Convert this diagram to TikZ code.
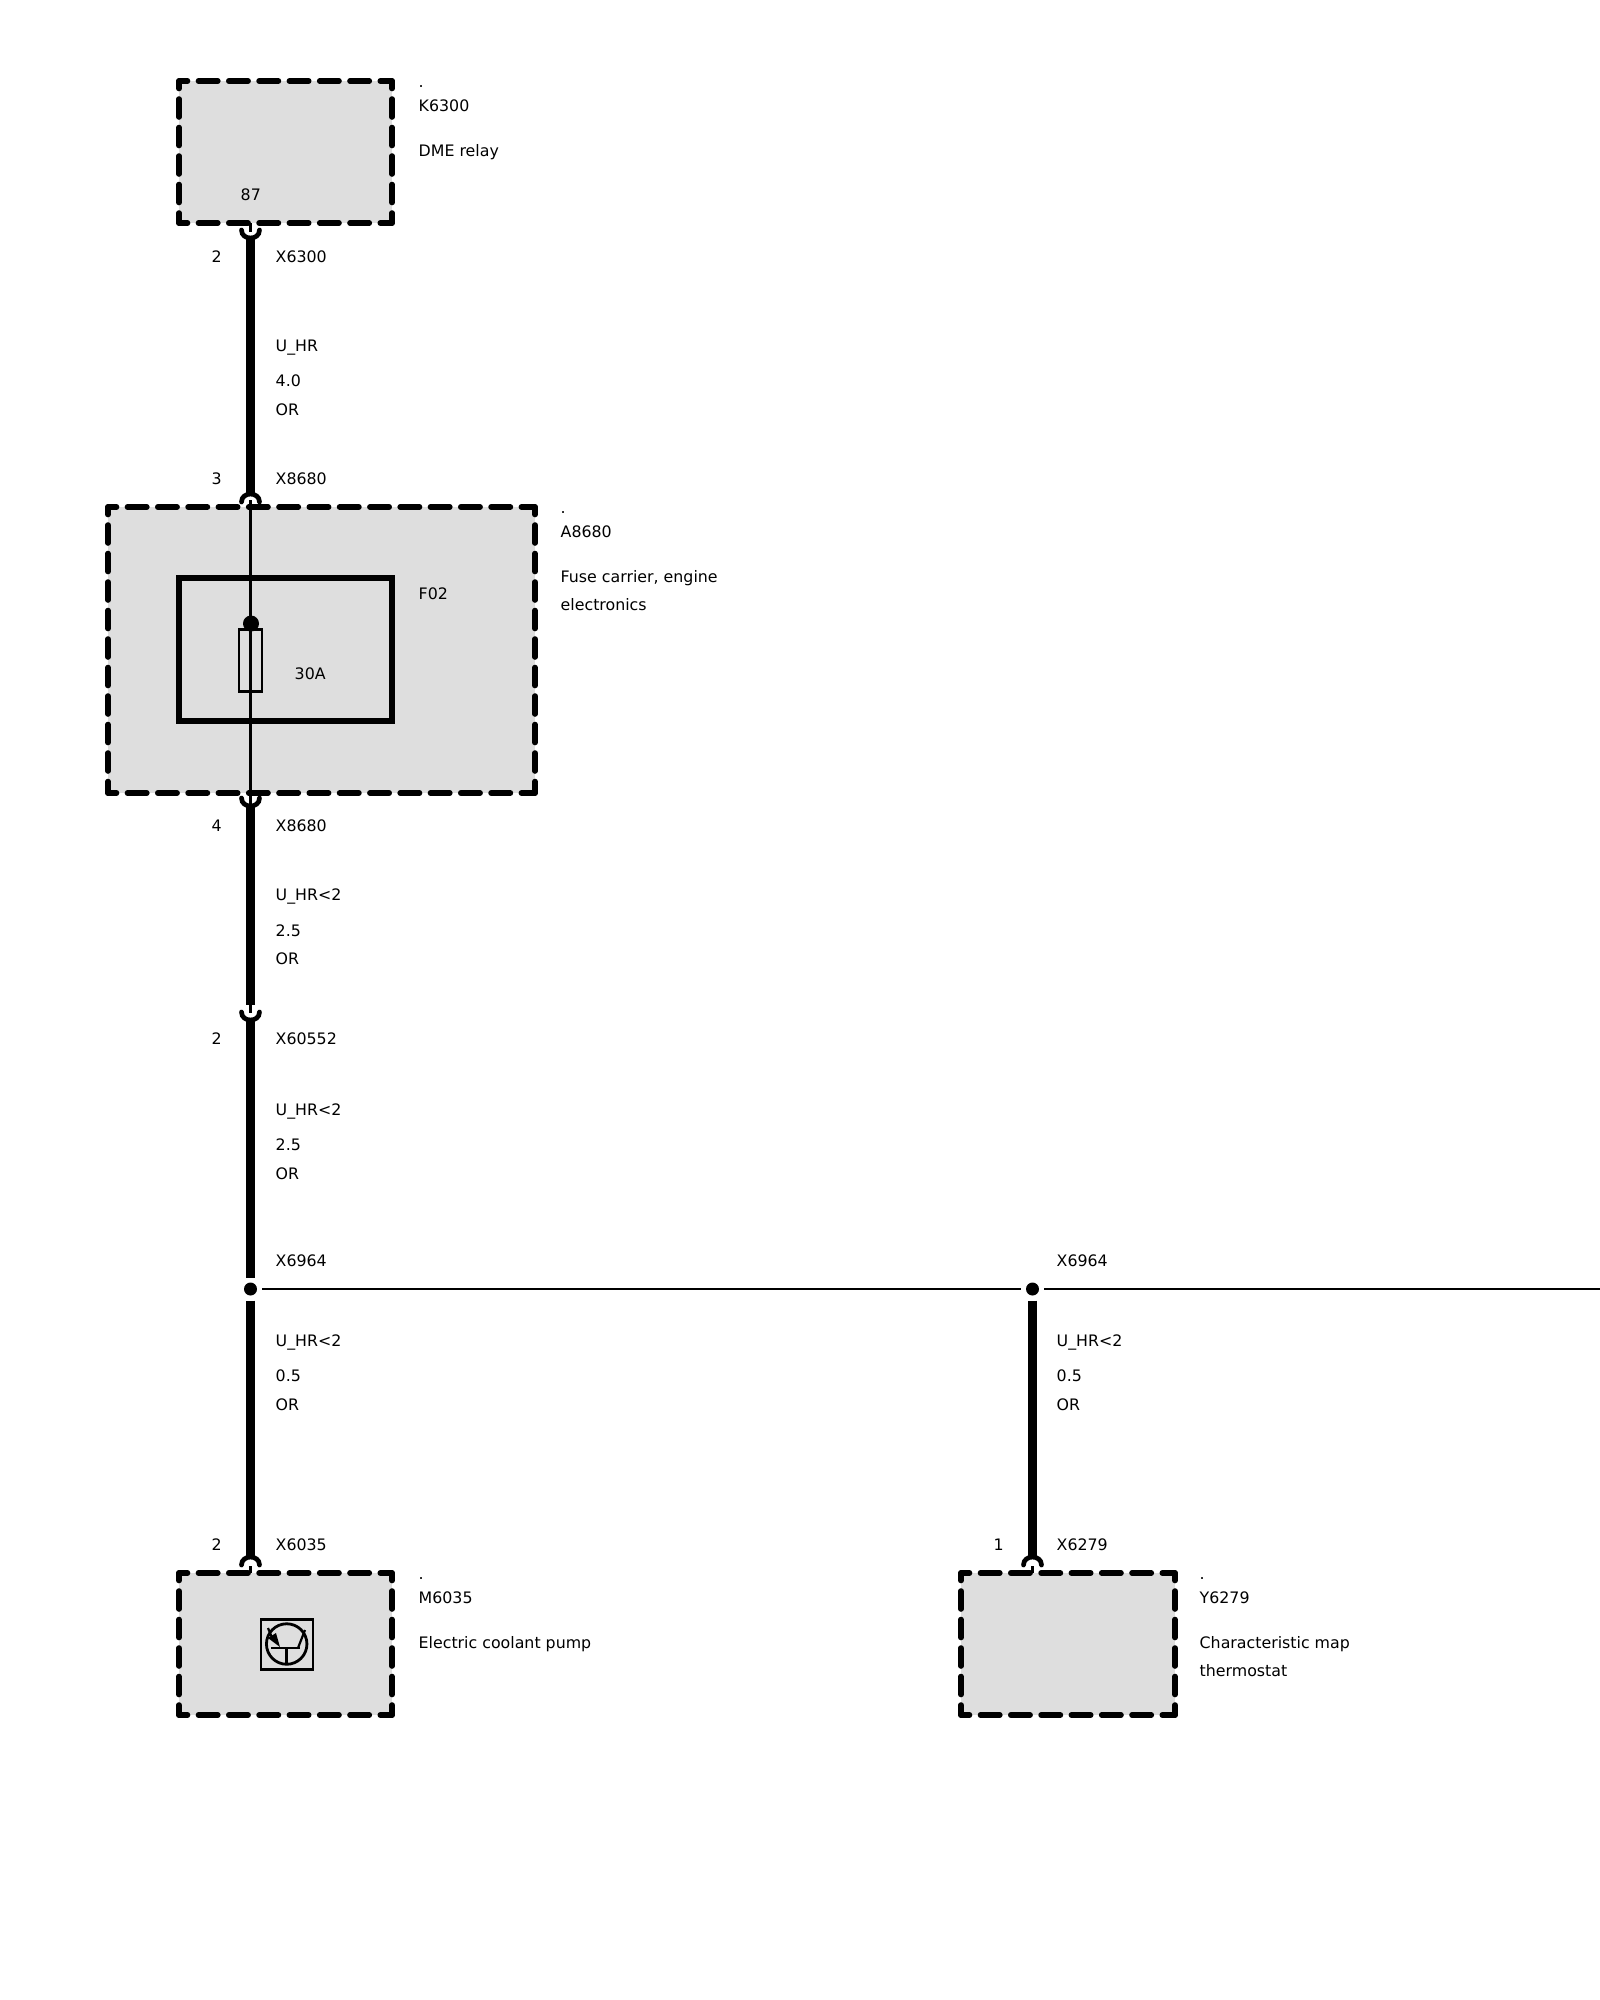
\documentclass[tikz,border=0pt]{standalone}
\usepackage{fontspec}
\setmainfont{DejaVu Sans}
\usetikzlibrary{calc}
\definecolor{boxgray}{HTML}{DEDEDE}
\tikzset{
	module/.style={fill=boxgray, inner sep=0, outer sep=0},
	hdash/.style={line width=0.56mm, line cap=round, dash pattern=on 1.93mm off 1.1mm, dash phase=1.08mm},
	vdash/.style={line width=0.56mm, line cap=round, dash pattern=on 1.8mm off 1.05mm, dash phase=1.05mm},
	wire/.style={line width=0.97mm},
	thinwire/.style={line width=0.27mm},
	stub/.style={line width=0.35mm},
	jack/.style={line width=0.47mm, line cap=round},
	junction/.style={circle, fill=black, inner sep=0, minimum size=1.3mm, outer sep=0.5mm},
	lbl/.style={anchor=base west, inner sep=0, font=\fontsize{4.5}{5.5}\selectfont},
}
\def\modulebox(#1){
	\draw[hdash] (#1.north west) -- (#1.north east);
	\draw[hdash] (#1.south west) -- (#1.south east);
	\draw[vdash] (#1.north west) -- (#1.south west);
	\draw[vdash] (#1.north east) -- (#1.south east);
}
\def\jackdown(#1){\draw[jack] ($(#1)+(-9,-8)$) .. controls ($(#1)+(-9,2.67)$) and ($(#1)+(9,2.67)$) .. ($(#1)+(9,-8)$);}
\def\jackup(#1){\draw[jack] ($(#1)+(-9,8)$) .. controls ($(#1)+(-9,-2.67)$) and ($(#1)+(9,-2.67)$) .. ($(#1)+(9,8)$);}

\begin{document}
\begin{tikzpicture}[x=0.1mm, y=-0.1mm]
	%%%%% START %%%%%
	\useasboundingbox (0, 0) rectangle (1600, 2000);
	
	\node[module, minimum width=21.3mm, minimum height=14.2mm] (k6300) at (285.5, 152) {};
	\node[module, minimum width=42.7mm, minimum height=28.6mm] (a8680) at (321.5, 650) {};
	\node[module, minimum width=21.3mm, minimum height=14.2mm] (m6035) at (285.5, 1644) {};
	\node[module, minimum width=21.4mm, minimum height=14.2mm] (y6279) at (1068, 1644) {};
	\modulebox(k6300)
	\modulebox(a8680)
	\modulebox(m6035)
	\modulebox(y6279)
	
	\node[draw, line width=0.55mm, inner sep=0, outer sep=0, minimum width=21.3mm, minimum height=14.3mm] (f02) at (285.5, 649.5) {};
	
	% connector points
	\coordinate (k6300pin) at (250.5, 223);
	\coordinate (x6300top) at (250.5, 232);
	\coordinate (x6300) at (250.5, 238);
	\coordinate (x8680in) at (250.5, 494);
	\coordinate (x8680inpin) at (250.5, 500);
	\coordinate (x8680out) at (250.5, 806);
	\coordinate (wireend) at (250.5, 1005);
	\coordinate (stubend) at (250.5, 1013);
	\coordinate (x60552) at (250.5, 1020);
	\coordinate (x6035) at (250.5, 1557);
	\coordinate (x6035pin) at (250.5, 1566);
	\coordinate (m6035pin) at (250.5, 1573);
	\coordinate (x6279) at (1032.5, 1557);
	\coordinate (x6279pin) at (1032.5, 1566);
	\coordinate (y6279pin) at (1032.5, 1573);
	\coordinate (rightend) at (1600, 1289);
	
	\node[junction] (x6964a) at (250.5, 1289) {};
	\node[junction] (x6964b) at (1032.5, 1289) {};
	
	\draw[stub] (k6300pin) -- (x6300top);
	\jackdown(x6300)
	\draw[wire] (x6300) -- (x8680in);
	\jackup(x8680in)
	\draw[thinwire] (x8680inpin) -- (x8680out);
	\jackdown(x8680out)
	\draw[wire] (x8680out) -- (wireend);
	\draw[stub] (wireend) -- (stubend);
	\jackdown(x60552)
	\draw[wire] (x60552) -- (x6964a);
	\draw[wire] (x6964a) -- (x6035);
	\jackup(x6035)
	\draw[stub] (x6035pin) -- (m6035pin);
	\draw[wire] (x6964b) -- (x6279);
	\jackup(x6279)
	\draw[stub] (x6279pin) -- (y6279pin);
	\draw[thinwire] (x6964a) -- (x6964b);
	\draw[thinwire] (x6964b) -- (rightend);
	
	% fuse
	\node[draw, line width=0.22mm, inner sep=0, outer sep=0, minimum width=2.3mm, minimum height=6.2mm] (fuse) at (250.5, 660.5) {};
	\node[circle, fill=black, inner sep=0, minimum size=1.6mm] (fusecap) at (251, 623.5) {};
	
	% motor symbol
	\node[draw, line width=0.25mm, inner sep=0, outer sep=0, minimum width=5.2mm, minimum height=5mm] (pumpframe) at (287, 1644.5) {};
	\node[draw, circle, line width=0.28mm, inner sep=0, outer sep=0, minimum size=4.05mm] (pumpmotor) at (286.7, 1644) {};
	\draw[line width=0.28mm] (271, 1648) -- (300, 1648);
	\draw[line width=0.22mm] (286.5, 1648) -- (286.5, 1664);
	\draw[line width=0.22mm] (298, 1648) -- (305, 1630);
	\draw[line width=0.22mm] (268, 1628) -- (273, 1640);
	\fill (268, 1638) -- (276, 1633) -- (280, 1647) -- cycle;
	
	% texts
	\node[lbl] (k6300dot) at (418, 87) {.};
	\node[lbl] (k6300id) at (418, 111) {K6300};
	\node[lbl] (k6300name) at (418, 156) {DME relay};
	\node[lbl] (k6300no) at (240, 200) {87};
	\node[lbl] (pin6300) at (211, 262) {2};
	\node[lbl] (lblx6300) at (275, 262) {X6300};
	\node[lbl] (sig1) at (275, 351) {U\_HR};
	\node[lbl] (size1) at (275, 386) {4.0};
	\node[lbl] (col1) at (275, 415) {OR};
	\node[lbl] (pin8680a) at (211, 484) {3};
	\node[lbl] (lblx8680a) at (275, 484) {X8680};
	
	\node[lbl] (a8680dot) at (560, 513) {.};
	\node[lbl] (a8680id) at (560, 537) {A8680};
	\node[lbl] (a8680name) at (560, 582) {Fuse carrier, engine};
	\node[lbl] (a8680name2) at (560, 610) {electronics};
	\node[lbl] (lblf02) at (418, 599) {F02};
	\node[lbl] (lbl30a) at (294, 679) {30A};
	
	\node[lbl] (pin8680b) at (211, 831) {4};
	\node[lbl] (lblx8680b) at (275, 831) {X8680};
	\node[lbl] (sig2) at (275, 900) {U\_HR<2};
	\node[lbl] (size2) at (275, 936) {2.5};
	\node[lbl] (col2) at (275, 964) {OR};
	\node[lbl] (pin60552) at (211, 1044) {2};
	\node[lbl] (lblx60552) at (275, 1044) {X60552};
	\node[lbl] (sig3) at (275, 1115) {U\_HR<2};
	\node[lbl] (size3) at (275, 1150) {2.5};
	\node[lbl] (col3) at (275, 1179) {OR};
	\node[lbl] (lblx6964a) at (275, 1266) {X6964};
	\node[lbl] (sig4) at (275, 1346) {U\_HR<2};
	\node[lbl] (size4) at (275, 1381) {0.5};
	\node[lbl] (col4) at (275, 1410) {OR};
	\node[lbl] (pin6035) at (211, 1550) {2};
	\node[lbl] (lblx6035) at (275, 1550) {X6035};
	
	\node[lbl] (m6035dot) at (418, 1579) {.};
	\node[lbl] (m6035id) at (418, 1603) {M6035};
	\node[lbl] (m6035name) at (418, 1648) {Electric coolant pump};
	
	\node[lbl] (lblx6964b) at (1056, 1266) {X6964};
	\node[lbl] (sig5) at (1056, 1346) {U\_HR<2};
	\node[lbl] (size5) at (1056, 1381) {0.5};
	\node[lbl] (col5) at (1056, 1410) {OR};
	\node[lbl] (pin6279) at (993, 1550) {1};
	\node[lbl] (lblx6279) at (1056, 1550) {X6279};
	
	\node[lbl] (y6279dot) at (1199, 1579) {.};
	\node[lbl] (y6279id) at (1199, 1603) {Y6279};
	\node[lbl] (y6279name) at (1199, 1648) {Characteristic map};
	\node[lbl] (y6279name2) at (1199, 1676) {thermostat};
	
	%%%%% END %%%%%
\end{tikzpicture}
\end{document}
